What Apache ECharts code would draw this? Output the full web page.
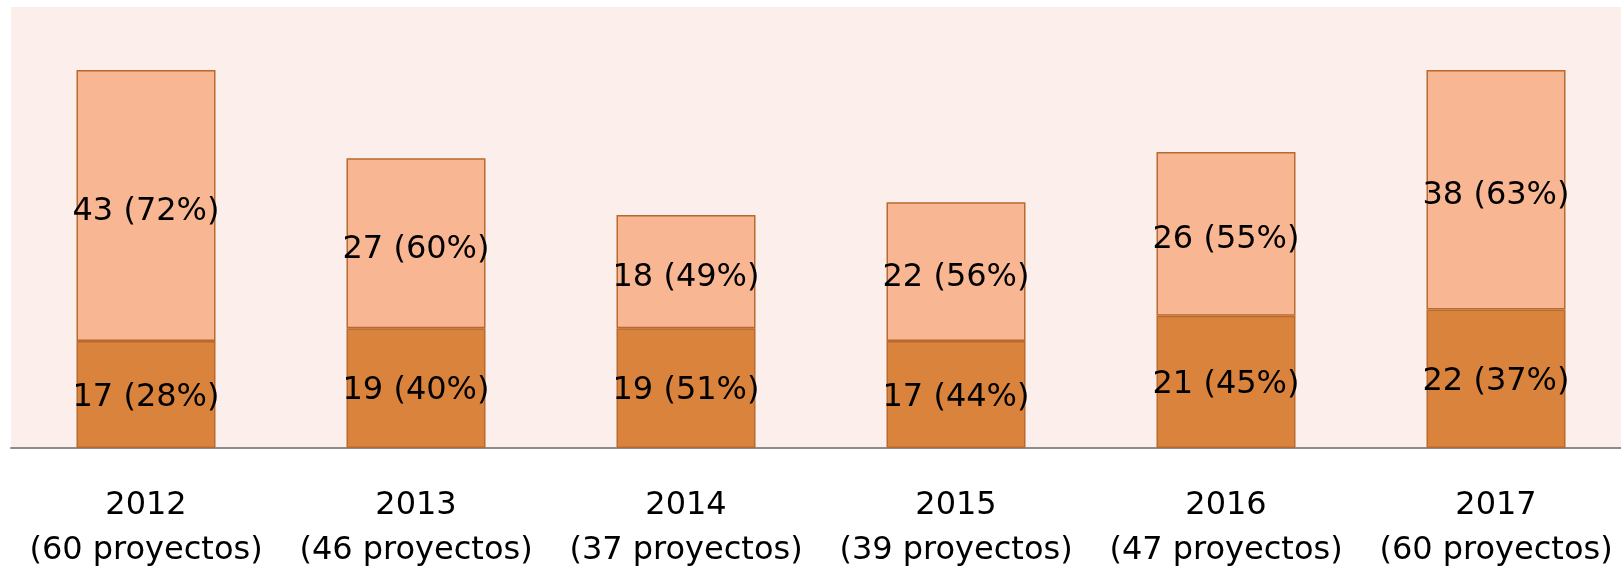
<!DOCTYPE html>
<html>
<head>
<meta charset="utf-8">
<script src="https://cdn.jsdelivr.net/npm/echarts@6/dist/echarts.min.js"></script>
<style>
  html, body { margin: 0; padding: 0; background: #ffffff; }
  #chart { width: 1621px; height: 571px; }
</style>
</head>
<body>
<div id="chart"></div>
<script>
// datos
const years = ['2012', '2013', '2014', '2015', '2016', '2017'];
const totals = [60, 46, 37, 39, 47, 60];
const lowerValues = [17, 19, 19, 17, 21, 22];
const lowerPct = [28, 40, 51, 44, 45, 37];
const upperValues = [43, 27, 18, 22, 26, 38];
const upperPct = [72, 60, 49, 56, 55, 63];

const categories = years.map((y, i) => y + '\n(' + totals[i] + ' proyectos)');

const chart = echarts.init(document.getElementById('chart'));

const barLabel = (pct, dy) => ({
  show: true,
  position: 'inside',
  offset: [0, dy],
  fontFamily: 'DejaVu Sans',
  fontSize: 32,
  color: '#000000',
  formatter: p => p.value + ' (' + pct[p.dataIndex] + '%)'
});

chart.setOption({
  animation: false,
  grid: {
    top: 7,
    bottom: 123,
    left: 11,
    width: 1620,
    outerBoundsMode: 'none',
    containLabel: false,
    show: true,
    backgroundColor: '#FCEEEA',
    borderWidth: 0
  },
  xAxis: {
    type: 'category',
    data: categories,
    axisLine: { lineStyle: { color: '#8C8C8C', width: 2 } },
    axisTick: { show: false },
    axisLabel: {
      margin: 35,
      lineHeight: 45,
      fontFamily: 'DejaVu Sans',
      fontSize: 32,
      color: '#000000',
      interval: 0
    }
  },
  yAxis: {
    type: 'value',
    min: 0,
    max: 70,
    show: false,
    splitLine: { show: false }
  },
  series: [
    {
      name: 'lower',
      type: 'bar',
      stack: 'total',
      barWidth: 139,
      data: lowerValues,
      itemStyle: { color: '#DA833D', borderColor: '#B8692E', borderWidth: 1.5 },
      label: barLabel(lowerPct, 3)
    },
    {
      name: 'upper',
      type: 'bar',
      stack: 'total',
      barWidth: 139,
      data: upperValues,
      itemStyle: { color: '#F8B692', borderColor: '#B8692E', borderWidth: 1.5 },
      label: barLabel(upperPct, 6)
    }
  ]
});
</script>
</body>
</html>
